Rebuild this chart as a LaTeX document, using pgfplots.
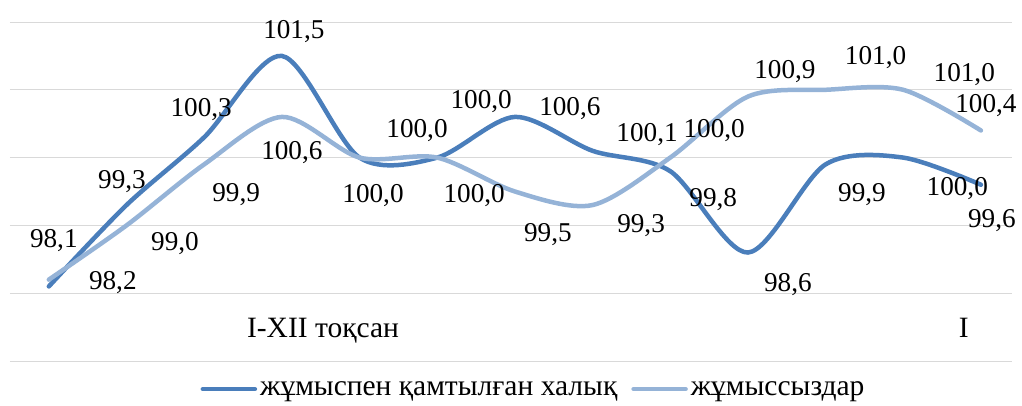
\documentclass[border=0pt]{standalone}
\usepackage{pgfplots}
\pgfplotsset{compat=1.18}
\usepackage{fontspec}
\setmainfont{Liberation Serif}
\definecolor{darkb}{HTML}{4A7EBB}
\definecolor{lightb}{HTML}{95B3D7}
\definecolor{gridc}{HTML}{D9D9D9}
\newcommand{\lblfont}{\fontsize{27.2}{31}\selectfont}
\newcommand{\txtfont}{\fontsize{29.5}{33}\selectfont}
\newcommand{\lbl}[5]{\node[anchor=base, inner sep=0pt, font=\lblfont, xshift=#3pt, yshift=#4pt] at (axis cs:#1,#2) {#5};}
\begin{document}
\begin{tikzpicture}[x=1pt,y=1pt]
\path[use as bounding box] (0,0) rectangle (1022,405);
\begin{axis}[
  at={(10pt,44pt)}, anchor=south west,
  scale only axis, width=1002pt, height=339pt,
  xmin=-0.5, xmax=12.4, ymin=97, ymax=102,
  axis line style={draw=none},
  xtick=\empty,
  ytick={97,98,99,100,101,102}, yticklabels={},
  tick style={draw=none},
  ymajorgrids, major grid style={draw=gridc, line width=1pt},
  clip=false,
  legend style={at={(0.523,-0.083)}, anchor=center, draw=none, fill=none,
    font=\txtfont, inner sep=0pt,
    nodes={inner sep=3pt},
    /tikz/every odd column/.append style={column sep=0pt},
    /tikz/every even column/.append style={column sep=11pt}},
  legend columns=2,
  legend image code/.code={\draw[#1, line width=4.5pt] (0pt,0pt) -- (52pt,0pt);},
]
\addplot[darkb, line width=4.5pt, line cap=round, smooth] table {
x y
0 98.1
1 99.3
2 100.3
3 101.5
4 100.0
5 100.0
6 100.6
7 100.1
8 99.8
9 98.6
10 99.9
11 100.0
12 99.6
};
\addlegendentry{жұмыспен қамтылған халық}
\addplot[lightb, line width=4.5pt, line cap=round, smooth] table {
x y
0 98.2
1 99.0
2 99.9
3 100.6
4 100.0
5 100.0
6 99.5
7 99.3
8 100.0
9 100.9
10 101.0
11 101.0
12 100.4
};
\addlegendentry{жұмыссыздар}
% data labels, series 1
\lbl{0}{98.1}{5}{39.4}{98,1}
\lbl{1}{99.3}{-4.5}{16.1}{99,3}
\lbl{2}{100.3}{-3}{20.3}{100,3}
\lbl{3}{101.5}{12}{17.9}{101,5}
\lbl{4}{100.0}{57.5}{20.6}{100,0}
\lbl{5}{100.0}{44}{49.6}{100,0}
\lbl{6}{100.6}{55}{1.9}{100,6}
\lbl{7}{100.1}{54.5}{9.8}{100,1}
\lbl{8}{99.8}{43}{-35.8}{99,8}
\lbl{9}{98.6}{40}{-38.5}{98,6}
\lbl{10}{99.9}{36.4}{-37.6}{99,9}
\lbl{11}{100.0}{54}{-37.4}{100,0}
\lbl{12}{99.6}{11}{-42.3}{99,6}
% data labels, series 2
\lbl{0}{98.2}{64}{-9.4}{98,2}
\lbl{1}{99.0}{48.5}{-24.6}{99,0}
\lbl{2}{99.9}{32}{-37.6}{99,9}
\lbl{3}{100.6}{10}{-42.1}{100,6}
\lbl{4}{100.0}{13.5}{-44.4}{100,0}
\lbl{5}{100.0}{37}{-44.4}{100,0}
\lbl{6}{99.5}{33}{-49.5}{99,5}
\lbl{7}{99.3}{48.5}{-27.9}{99,3}
\lbl{8}{100.0}{44}{20.6}{100,0}
\lbl{9}{100.9}{37}{17.6}{100,9}
\lbl{10}{101.0}{50}{25.8}{101,0}
\lbl{11}{101.0}{61}{8.8}{101,0}
\lbl{12}{100.4}{5}{17.5}{100,4}
% category labels
\node[anchor=base, inner sep=0pt, font=\txtfont] at (axis cs:3.53,97.34) {I-XII тоқсан};
\node[anchor=base, inner sep=0pt, font=\txtfont] at (axis cs:11.78,97.354) {I};
\end{axis}
\end{tikzpicture}
\end{document}
